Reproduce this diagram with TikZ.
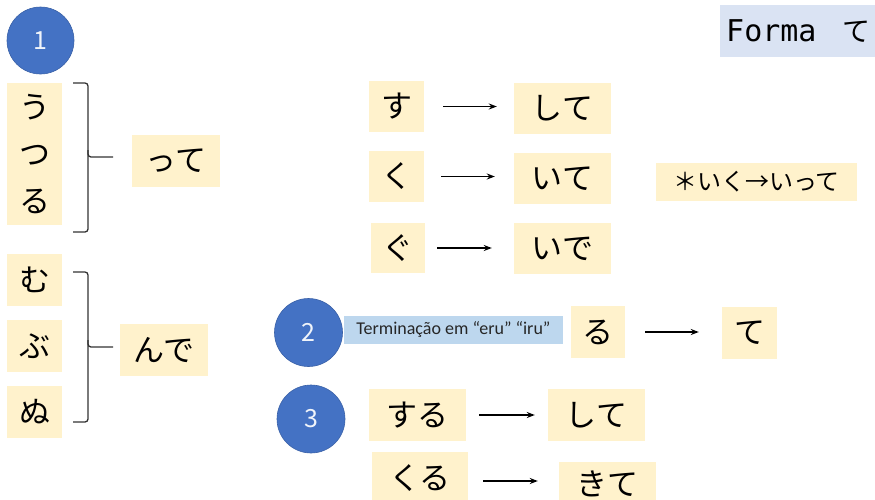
\documentclass[tikz,border=0pt]{standalone}
\usepackage{fontspec}
\usetikzlibrary{arrows.meta,calc}
\newfontfamily\jp{Noto Sans CJK JP}
\newfontfamily\lat{Carlito}
\newfontfamily\mono{DejaVu Sans Mono}
\definecolor{kyellow}{HTML}{FFF2CC}
\definecolor{kblue}{HTML}{DAE3F3}
\definecolor{tblue}{HTML}{BDD7EE}
\definecolor{cblue}{HTML}{4472C4}
\tikzset{
  kbox/.style={fill=kyellow, inner sep=0pt, font=\jp\fontsize{31}{36}\selectfont},
  numc/.style={circle, fill=cblue, draw=cblue!85!black, line width=0.6pt, inner sep=0pt,
    text=white!92!cblue, font=\jp\fontsize{25}{28}\selectfont},
  arr/.style={line width=1.5pt, -{Stealth[length=8pt,width=6pt]}},
  brk/.style={line width=1.3pt, draw=black!80, rounded corners=3pt},
}
\begin{document}
\begin{tikzpicture}[x=1pt,y=-1pt]
\useasboundingbox (0,0) rectangle (875,499);
\clip (0,0) rectangle (875,499);
% group 1
\node[numc, minimum size=67pt] (c1) at (40.5,40.5) {1};
\node[kbox, minimum width=55pt, minimum height=142pt, align=center, font=\jp\fontsize{31}{47}\selectfont] (utsuru) at (34.5,154) {う\\つ\\る};
\node[kbox, minimum width=88pt, minimum height=52pt] (tte) at (176,161) {って};
\node[kbox, minimum width=55pt, minimum height=52pt] (mu) at (34.5,280) {む};
\node[kbox, minimum width=55pt, minimum height=52pt] (bu) at (34.5,346) {ぶ};
\node[kbox, minimum width=55pt, minimum height=52pt] (nu) at (34.5,412) {ぬ};
\node[kbox, minimum width=88pt, minimum height=52pt] (nde) at (164,350) {んで};
% brackets
\coordinate (b1t) at (73,83);
\coordinate (b1b) at (73,232);
\coordinate (b1m) at (113,157);
\draw[brk] (b1t) -- (88,83) -- (88,232) -- (b1b);
\draw[brk] (88,150) -- (88,157) -- (b1m);
\coordinate (b2t) at (73,272);
\coordinate (b2b) at (73,422);
\coordinate (b2m) at (113,347);
\draw[brk] (b2t) -- (88,272) -- (88,422) -- (b2b);
\draw[brk] (88,340) -- (88,347) -- (b2m);
% right column
\node[kbox, minimum width=55pt, minimum height=51pt] (su) at (396.5,106.5) {す};
\node[kbox, minimum width=97pt, minimum height=51pt] (shite1) at (562.5,108.5) {して};
\node[kbox, minimum width=55pt, minimum height=51pt] (ku) at (396.5,176.5) {く};
\node[kbox, minimum width=97pt, minimum height=51pt] (ite) at (562.5,178.5) {いて};
\node[kbox, minimum width=54pt, minimum height=50pt] (gu) at (398,248) {ぐ};
\node[kbox, minimum width=97pt, minimum height=51pt] (ide) at (562.5,248.5) {いで};
\draw[arr] ([xshift=19pt]su.east) -- ([xshift=-17pt]su.east -| shite1.west);
\draw[arr] ([xshift=17pt]ku.east) -- ([xshift=-19pt]ku.east -| ite.west);
\draw[arr] ([xshift=12pt]gu.east) -- ([xshift=-22pt]gu.east -| ide.west);
% title and note
\node[fill=kblue, minimum width=155pt, minimum height=52pt, inner sep=0pt] (forma) at (797.5,31) {};
\node[anchor=west, inner sep=0pt, font=\fontsize{30}{34}\selectfont] (formatext) at (726,31) {\mono Forma\hspace{26pt}\jp\fontsize{28}{34}\selectfont て};
\node[kbox, minimum width=201pt, minimum height=38pt, font=\jp\fontsize{24}{28}\selectfont] (iku) at (756.5,182) {＊いく→いって};
% group 2
\node[numc, minimum size=68pt] (c2) at (308.5,332.5) {2};
\node[fill=tblue, minimum width=219pt, minimum height=28pt, inner sep=0pt, text=black!85, font=\lat\fontsize{18}{20}\selectfont] (term) at (453.5,330) {Terminação em “eru” “iru”};
\node[kbox, minimum width=54pt, minimum height=52pt] (ru) at (598,332) {る};
\node[kbox, minimum width=55pt, minimum height=52pt] (te) at (749.5,333) {て};
\draw[arr] ([xshift=20pt]ru.east) -- ([xshift=-23pt]ru.east -| te.west);
% group 3
\node[numc, minimum size=68pt] (c3) at (311,419) {3};
\node[kbox, minimum width=97pt, minimum height=52pt] (suru) at (417.5,415) {する};
\node[kbox, minimum width=97pt, minimum height=52pt] (shite2) at (596.5,415) {して};
\node[kbox, minimum width=96pt, minimum height=52pt] (kuru) at (420,478) {くる};
\node[kbox, minimum width=97pt, minimum height=44pt] (kite) at (607.5,484) {きて};
\draw[arr] ([xshift=15pt,yshift=-3pt]kuru.east) -- ([xshift=-21pt,yshift=-3pt]kuru.east -| kite.west);
\draw[arr] ([xshift=13pt]suru.east) -- ([xshift=-13pt]suru.east -| shite2.west);
\end{tikzpicture}
\end{document}
